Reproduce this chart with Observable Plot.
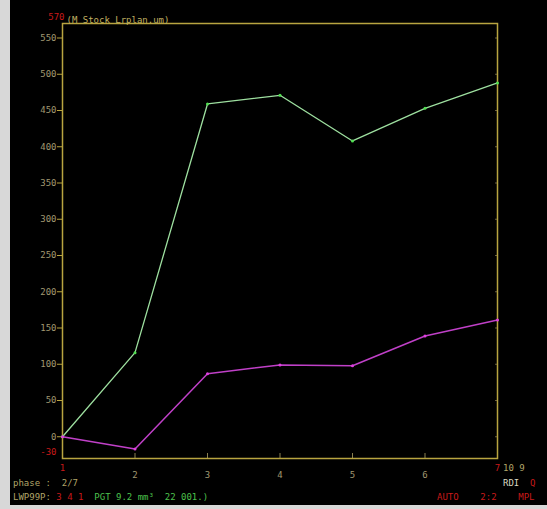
<!DOCTYPE html>
<html><head><meta charset="utf-8">
<script src="https://cdn.jsdelivr.net/npm/d3@7"></script>
<script src="https://cdn.jsdelivr.net/npm/@observablehq/plot@0.6"></script>
<style>
html,body{margin:0;padding:0;background:#d8d8d8;width:547px;height:509px;overflow:hidden;}
#scr{position:absolute;left:10px;top:0;width:537px;height:505px;background:#000;}
.t{position:absolute;font-family:"DejaVu Sans Mono",monospace;font-size:9px;white-space:pre;line-height:10px;}
.y{color:#b0a468}.r{color:#c81a1a}.g{color:#4cc04c}.w{color:#d8d8c0}
</style></head><body>
<div id="scr"></div>
<div class="t y" style="left:13px;top:478px">phase :  2/7</div>
<div class="t" style="left:13px;top:492px"><span class="y">LWP99P:</span> <span class="r">3 4 1</span>  <span class="g">PGT 9.2 mm³  22 001.)</span></div>
<div class="t y" style="left:503px;top:463px">10 9</div>
<div class="t" style="left:503px;top:478px"><span class="w">RDI</span>  <span class="r">Q</span></div>
<div class="t r" style="left:437px;top:492px">AUTO    2:2    MPL</div>
<script>
const xValues = [1, 2, 3, 4, 5, 6, 7];
const greenSeries = [0, 116, 459, 471, 408, 453, 488];
const purpleSeries = [0, -17, 87, 99, 98, 139, 161];
const yTicks = [0, 50, 100, 150, 200, 250, 300, 350, 400, 450, 500, 550];
const xTicks = [2, 3, 4, 5, 6];
const xLimits = [1, 7];
const yLow = [-30];
const yHigh = [570];
const unitLabel = ["(M Stock Lrplan.um)"];

const green = xValues.map((x, i) => ({x, y: greenSeries[i]}));
const purple = xValues.map((x, i) => ({x, y: purpleSeries[i]}));
const axisColor = "#b8a440";
const labelColor = "#a09870";
const red = "#c81a1a";

const chart = Plot.plot({
  width: 537, height: 505,
  marginLeft: 52, marginRight: 50, marginTop: 23, marginBottom: 47,
  x: {domain: [1, 7]},
  y: {domain: [-30, 570]},
  style: {background: "transparent", color: labelColor, fontFamily: "DejaVu Sans Mono, monospace", fontSize: "9px"},
  marks: [
    Plot.axisY({ticks: yTicks, tickSize: 5, tickPadding: 1, stroke: axisColor, fill: labelColor, tickFormat: d => String(d), label: null}),
    Plot.axisY({anchor: "right", ticks: yTicks, tickSize: -3, stroke: "#6a6040", tickFormat: () => "", label: null}),
    Plot.axisX({ticks: xTicks, tickSize: -5, tickPadding: 18, stroke: "#8a8050", fill: labelColor, tickFormat: d => String(d), label: null}),
    Plot.frame({stroke: axisColor, strokeWidth: 1.5}),
    Plot.text(xLimits, {x: d => d, frameAnchor: "bottom", dy: 12, fill: red, text: d => String(d)}),
    Plot.text(yLow, {y: d => d, frameAnchor: "left", dx: -6, dy: -6, textAnchor: "end", fill: red, text: d => String(d)}),
    Plot.text(yHigh, {y: d => d, frameAnchor: "left", dx: 2, dy: -6, textAnchor: "end", fill: red, text: d => String(d)}),
    Plot.text(unitLabel, {frameAnchor: "top-left", dx: 4, dy: -7, textAnchor: "start", fill: "#c0b060", text: d => d}),
    Plot.line(green, {x: "x", y: "y", stroke: "#9ee0a0", strokeWidth: 1.3}),
    Plot.dot(green, {x: "x", y: "y", r: 1.5, fill: "#50e050"}),
    Plot.line(purple, {x: "x", y: "y", stroke: "#c040c8", strokeWidth: 1.5}),
    Plot.dot(purple, {x: "x", y: "y", r: 1.5, fill: "#e040e0"})
  ]
});
chart.style.position = "absolute";
chart.style.left = "10px";
chart.style.top = "0px";
document.body.appendChild(chart);
</script>
</body></html>
